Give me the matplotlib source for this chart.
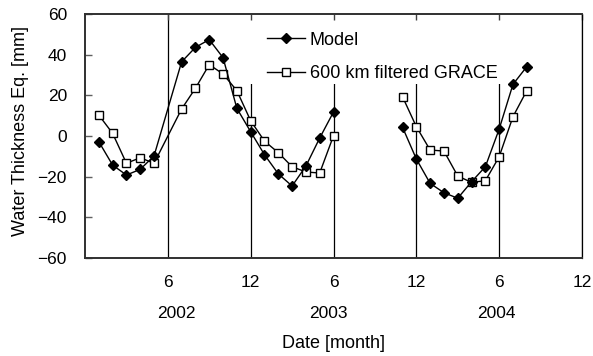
import numpy as np
import matplotlib
matplotlib.use("Agg")
import matplotlib.pyplot as plt
from matplotlib.patches import Rectangle
from matplotlib.transforms import blended_transform_factory

plt.rcParams['font.family'] = ['Liberation Sans', 'DejaVu Sans']

# Month index counted from January 2002 (= 1); June 2002 and Jul-Oct 2003 have no data
months = [1, 2, 3, 4, 5, 7, 8, 9, 10, 11, 12, 13, 14, 15, 16, 17, 18,
          23, 24, 25, 26, 27, 28, 29, 30, 31, 32]
model = [-2.8, -14.3, -19.2, -16.4, -9.8, 36.5, 43.6, 47.4, 38.5, 13.6, 2.1,
         -9.2, -18.6, -24.6, -14.8, -1.0, 11.8,
         4.3, -11.3, -23.3, -27.9, -30.6, -22.5, -15.1, 3.4, 25.4, 34.1]
grace = [10.3, 1.3, -13.4, -10.7, -13.4, 13.3, 23.5, 35.1, 30.5, 22.3, 7.5,
         -2.5, -8.2, -15.1, -17.7, -18.2, 0.1,
         19.3, 4.6, -6.9, -7.4, -19.7, -22.8, -22.0, -10.2, 9.5, 22.3]

tick_pos = [6, 12, 18, 24, 30, 36]
tick_labels = ['6', '12', '6', '12', '6', '12']
years = ['2002', '2003', '2004']
year_pos = [6.6, 17.6, 29.8]


def split_runs(x, y):
    """Break a series into runs separated by multi-month gaps."""
    x = np.asarray(x, float)
    y = np.asarray(y, float)
    cuts = np.where(np.diff(x) > 3)[0] + 1
    return list(zip(np.split(x, cuts), np.split(y, cuts)))


fig = plt.figure(figsize=(5.93, 3.56), dpi=100)
ax = fig.add_axes([85 / 593, 98 / 356, 497 / 593, 244 / 356])

ax.set_xlim(0, 36)
ax.set_ylim(-60, 60)

for xv in tick_pos:
    ax.axvline(xv, color='black', lw=0.9, zorder=1)

# white background behind the legend hides the grid lines there
ax.add_patch(Rectangle((155 / 497, 174 / 244), 272 / 497, 70 / 244,
                       transform=ax.transAxes, facecolor='white',
                       edgecolor='none', zorder=1.5))

first = True
for (xm, ym), (xg, yg) in zip(split_runs(months, model), split_runs(months, grace)):
    ax.plot(xm, ym, color='black', lw=1.0, marker='D', ms=5.5,
            mfc='black', mec='black', zorder=4,
            label='Model' if first else None)
    ax.plot(xg, yg, color='black', lw=1.0, marker='s', ms=5.3,
            mfc='white', mec='black', mew=1.0, zorder=3,
            label='600 km filtered GRACE' if first else None)
    first = False

ax.set_xticks(tick_pos)
ax.set_xticklabels(tick_labels)
ax.set_yticks(np.arange(-60, 61, 20))
ax.tick_params(axis='x', bottom=False, top=True, direction='in', length=4,
               width=1, color='#404040', labelsize=12.5, pad=12)
ax.tick_params(axis='y', left=True, direction='in', length=5, width=1,
               color='#606060', labelsize=12.5, pad=13)

for side in ('left', 'bottom', 'top'):
    ax.spines[side].set_color('#303030')
    ax.spines[side].set_linewidth(1.4)
ax.spines['right'].set_color('black')
ax.spines['right'].set_linewidth(0.9)

trans = blended_transform_factory(ax.transData, fig.transFigure)
for xv, yr in zip(year_pos, years):
    ax.text(xv, 1 - 313 / 356, yr, transform=trans, ha='center', va='center',
            fontsize=12.5)

fig.text(333 / 593, 1 - 343 / 356, 'Date [month]', ha='center', va='center',
         fontsize=13)
fig.text(21 / 593, 1 - 131 / 356, 'Water Thickness Eq. [mm]', ha='center',
         va='center', rotation=90, fontsize=13)

leg = ax.legend(loc='upper left', bbox_to_anchor=((254 - 85) / 497, 1 - 5 / 244),
                frameon=False, fontsize=13, handlelength=2.1,
                handletextpad=0.3, labelspacing=0.9, borderpad=0.2)
leg.set_zorder(5)

fig.savefig('out.png', dpi=100)
